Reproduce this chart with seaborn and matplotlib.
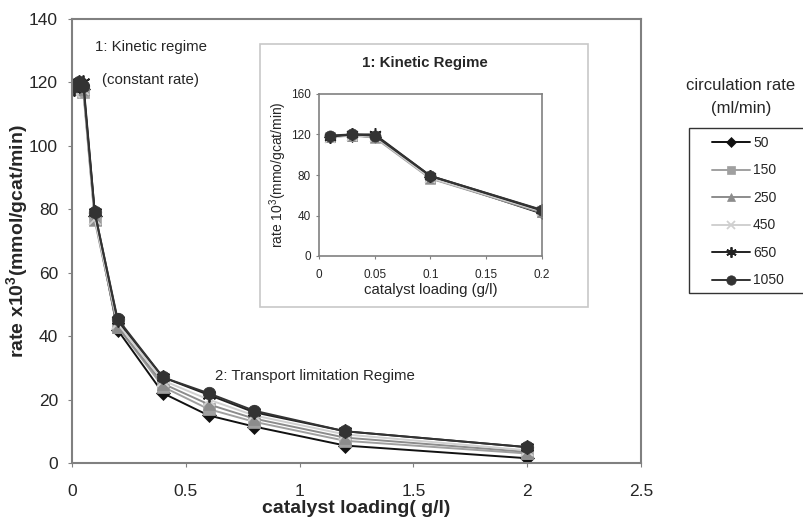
import matplotlib
matplotlib.use("Agg")
import matplotlib.pyplot as plt
import seaborn as sns
import pandas as pd
from matplotlib.patches import Rectangle

sns.set_style("white")
plt.rcParams['font.family'] = ['Liberation Sans', 'DejaVu Sans']
plt.rcParams['mathtext.fontset'] = 'custom'
plt.rcParams['mathtext.rm'] = 'Liberation Sans'
plt.rcParams['mathtext.bf'] = 'Liberation Sans:bold'

loading = [0.01, 0.03, 0.05, 0.1, 0.2, 0.4, 0.6, 0.8, 1.2, 2.0]
rate_50 = [118, 119, 118, 78, 42, 22, 15, 11.5, 5.5, 1.5]
rate_150 = [118, 119, 117, 76.5, 43, 24, 17, 13, 7, 3]
rate_250 = [118, 119, 118, 77, 43, 25, 18.5, 14, 8, 3.5]
rate_450 = [117, 119, 118, 77, 44, 26, 20, 15, 9, 4]
rate_650 = [118, 120, 120, 79, 45, 27, 21.5, 16, 10, 5]
rate_1050 = [119, 120, 119, 79, 45.5, 27, 22, 16.5, 10, 5]
circulation = ["50", "150", "250", "450", "650", "1050"]
series = [rate_50, rate_150, rate_250, rate_450, rate_650, rate_1050]

colors = ["#111111", "#a0a0a0", "#8c8c8c", "#d0d0d0", "#222222", "#333333"]
markers = ["D", "s", "^", "x", (6, 2, 0), "o"]
msizes = [7, 8, 8, 8, 10, 9]

rows = []
for name, vals in zip(circulation, series):
    for x, y in zip(loading, vals):
        rows.append({"loading": x, "rate": y, "circ": name})
df = pd.DataFrame(rows)

fig = plt.figure(figsize=(8.04, 5.21), dpi=100)
W, H = 804, 521

def axrect(l, t, r, b):
    return [l / W, 1 - b / H, (r - l) / W, (b - t) / H]

ax = fig.add_axes(axrect(72, 19, 641, 463))
for i, name in enumerate(circulation):
    sub = df[df.circ == name]
    sns.lineplot(data=sub, x="loading", y="rate", ax=ax, color=colors[i],
                 marker=markers[i], markersize=msizes[i], linewidth=1.4,
                 markeredgecolor=colors[i],
                 markeredgewidth=1.3 if markers[i] in ["x", (6, 2, 0)] else 0.5,
                 label=name, legend=False)
ax.set_xlim(0, 2.5)
ax.set_ylim(0, 140)
ax.set_xticks([0, 0.5, 1, 1.5, 2, 2.5])
ax.set_xticklabels(["0", "0.5", "1", "1.5", "2", "2.5"])
ax.set_yticks(range(0, 141, 20))
for s in ax.spines.values():
    s.set_color("#808080")
    s.set_linewidth(1.5)
ax.tick_params(axis='both', labelsize=12.5, length=3, color="#808080", direction='out',
               bottom=True, left=True)
ax.tick_params(axis='x', pad=12)
ax.tick_params(axis='y', pad=7)
ax.set_xlabel("catalyst loading( g/l)", fontsize=14, fontweight='bold', labelpad=1)
ax.set_ylabel(r"rate x10$^{\mathbf{3}}$(mmol/gcat/min)", fontsize=14, fontweight='bold')
ax.yaxis.set_label_coords(-41 / 569, 0.5)

fig.text(95 / W, 1 - 47 / H, "1: Kinetic regime", fontsize=10.8, va='center', ha='left')
fig.text(102 / W, 1 - 80 / H, "(constant rate)", fontsize=10.8, va='center', ha='left')
fig.text(215 / W, 1 - 376 / H, "2: Transport limitation Regime", fontsize=10.8, va='center', ha='left')

# inset frame
fig.patches.append(Rectangle((260 / W, 1 - 307 / H), (588 - 260) / W, (307 - 44) / H,
                             transform=fig.transFigure, facecolor='white',
                             edgecolor='#c8c8c8', linewidth=1.2, zorder=2))
axi = fig.add_axes(axrect(319, 94, 542, 256))
axi.set_zorder(3)
for i, name in enumerate(circulation):
    sub = df[(df.circ == name) & (df.loading <= 0.2)]
    sns.lineplot(data=sub, x="loading", y="rate", ax=axi, color=colors[i],
                 marker=markers[i], markersize=msizes[i] - 1, linewidth=1.5,
                 markeredgecolor=colors[i],
                 markeredgewidth=1.1 if markers[i] in ["x", (6, 2, 0)] else 0.5,
                 legend=False)
axi.set_xlim(0, 0.2)
axi.set_ylim(0, 160)
axi.set_xticks([0, 0.05, 0.1, 0.15, 0.2])
axi.set_xticklabels(["0", "0.05", "0.1", "0.15", "0.2"])
axi.set_yticks([0, 40, 80, 120, 160])
for s in axi.spines.values():
    s.set_color("#808080")
    s.set_linewidth(1.2)
axi.tick_params(axis='both', labelsize=8.5, length=2, color="#808080", direction='out',
                bottom=True, left=True)
axi.tick_params(axis='x', pad=7)
axi.tick_params(axis='y', pad=4)
axi.set_xlabel("catalyst loading (g/l)", fontsize=10.8, labelpad=2)
axi.set_ylabel(r"rate 10$^{3}$(mmo/gcat/min)", fontsize=10, labelpad=1)
fig.text(425 / W, 1 - 63 / H, "1: Kinetic Regime", fontsize=10.8,
         fontweight='bold', ha='center', va='center', zorder=4)

# legend
fig.patches.append(Rectangle((689 / W, 1 - 293 / H), (830 - 689) / W, (293 - 128) / H,
                             transform=fig.transFigure, facecolor='white',
                             edgecolor='#333333', linewidth=1.0, zorder=2))
handles, labels = ax.get_legend_handles_labels()
leg = fig.legend(handles, labels, loc='upper left', bbox_to_anchor=(712 / W, 1 - 136 / H),
                 frameon=False, fontsize=10, handlelength=2.75, markerscale=0.75,
                 labelspacing=0.97, borderpad=0, handletextpad=0.2, borderaxespad=0)
leg.set_zorder(5)
fig.text(741 / W, 1 - 85 / H, "circulation rate", fontsize=12, ha='center', va='center')
fig.text(741 / W, 1 - 108 / H, "(ml/min)", fontsize=12, ha='center', va='center')

fig.savefig("out.png", dpi=100, facecolor='white')
